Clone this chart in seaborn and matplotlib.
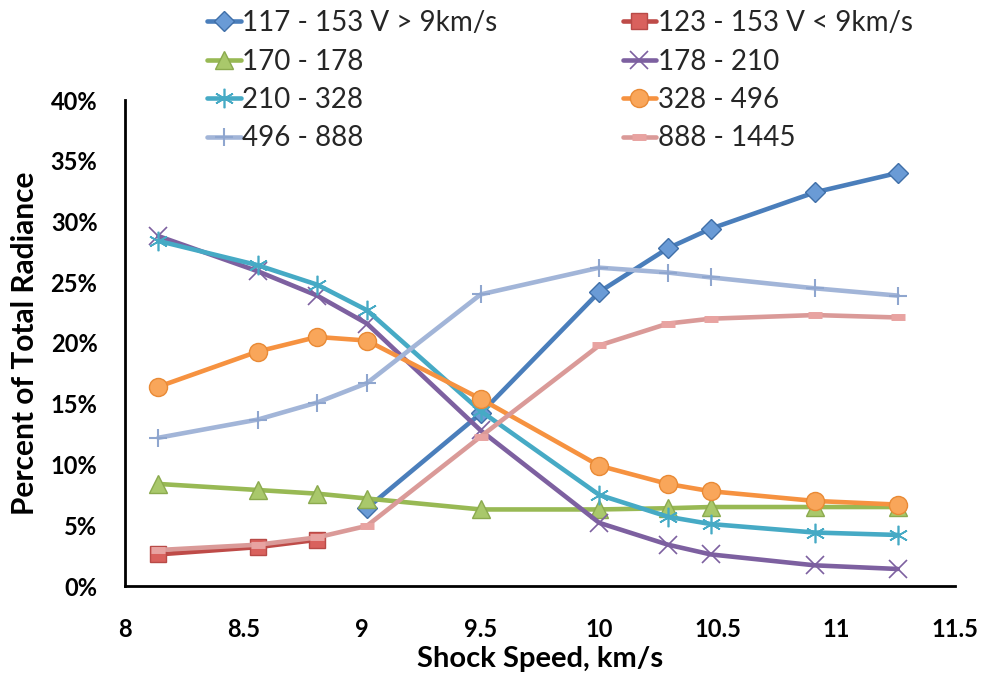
import numpy as np
import pandas as pd
import matplotlib
matplotlib.use("Agg")
import matplotlib.pyplot as plt
import seaborn as sns
from matplotlib.ticker import PercentFormatter, MultipleLocator, FuncFormatter

sns.set_theme(style="white")
plt.rcParams['font.family'] = ['Lato', 'DejaVu Sans']
plt.rcParams['font.weight'] = 'bold'

speeds = [8.14, 8.56, 8.81, 9.02, 9.5, 10.0, 10.29, 10.47, 10.91, 11.26]
nan = np.nan

s_117_153_hi = [nan, nan, nan, 6.4, 14.2, 24.2, 27.8, 29.4, 32.4, 34.0]
s_123_153_lo = [2.6, 3.2, 3.8, nan, nan, nan, nan, nan, nan, nan]
s_170_178 = [8.4, 7.9, 7.6, 7.2, 6.3, 6.3, 6.4, 6.5, 6.5, 6.5]
s_178_210 = [28.8, 25.9, 23.9, 21.6, 12.8, 5.2, 3.4, 2.6, 1.7, 1.4]
s_210_328 = [28.4, 26.4, 24.8, 22.7, 14.4, 7.5, 5.7, 5.1, 4.4, 4.2]
s_328_496 = [16.4, 19.3, 20.5, 20.2, 15.4, 9.9, 8.4, 7.8, 7.0, 6.7]
s_496_888 = [12.2, 13.7, 15.1, 16.7, 24.0, 26.2, 25.8, 25.4, 24.5, 23.9]
s_888_1445 = [2.96, 3.4, 4.0, 4.95, 12.3, 19.8, 21.6, 22.0, 22.3, 22.1]

labels = ["117 - 153 V > 9km/s", "123 - 153 V < 9km/s", "170 - 178", "178 - 210",
          "210 - 328", "328 - 496", "496 - 888", "888 - 1445"]
series = [s_117_153_hi, s_123_153_lo, s_170_178, s_178_210,
          s_210_328, s_328_496, s_496_888, s_888_1445]

styles = [
    dict(color='#4A7EBB', marker='D', ms=10, mfc='#6A9BD6', mec='#3F6FA8', mew=1),
    dict(color='#BE4B48', marker='s', ms=12, mfc='#D9615D', mec='#B84A47', mew=1),
    dict(color='#98B954', marker='^', ms=13, mfc='#A9C86B', mec='#8BAA4E', mew=1),
    dict(color='#7D60A0', marker='x', ms=13, mfc='#7D60A0', mec='#7D60A0', mew=1.2),
    dict(color='#46AAC5', marker=(6, 2, 0), ms=14, mfc='#46AAC5', mec='#46AAC5', mew=1.2),
    dict(color='#F69240', marker='o', ms=13, mfc='#F9A65A', mec='#E98A35', mew=1),
    dict(color='#A2B5D8', marker='+', ms=13, mfc='#8FA6CF', mec='#8FA6CF', mew=1.5),
    dict(color='#DA9A98', marker='_', ms=10, mfc='#E8A3A1', mec='#E8A3A1', mew=5),
]

fig = plt.figure(figsize=(9.82, 6.74), dpi=100)
ax = fig.add_axes([125.2/982, 88/674, (954.7-125.2)/982, 486/674])

for lab, vals, st in zip(labels, series, styles):
    df = pd.DataFrame({"speed": speeds, "pct": vals}).dropna()
    sns.lineplot(data=df, x="speed", y="pct", ax=ax, label=lab, color=st['color'],
                 linewidth=3.3, marker=st['marker'], markersize=st['ms'],
                 markerfacecolor=st['mfc'], markeredgecolor=st['mec'],
                 markeredgewidth=st['mew'], clip_on=False)

ax.set_xlim(8, 11.5)
ax.set_ylim(0, 40)
ax.xaxis.set_major_locator(MultipleLocator(0.5))
ax.yaxis.set_major_locator(MultipleLocator(5))
ax.yaxis.set_major_formatter(PercentFormatter(xmax=100, decimals=0))
ax.xaxis.set_major_formatter(FuncFormatter(lambda v, p: f"{v:g}"))
for side in ['top', 'right']:
    ax.spines[side].set_visible(False)
for side in ['left', 'bottom']:
    ax.spines[side].set_color('black')
    ax.spines[side].set_linewidth(2)
ax.tick_params(axis='both', which='major', direction='out', length=6, width=2,
               color='black', labelsize=17, labelcolor='black')
ax.tick_params(axis='x', pad=17)
ax.tick_params(axis='y', pad=14)
ax.set_xlabel("Shock Speed, km/s", fontsize=21, fontweight='bold', labelpad=4, color='black')
ax.set_ylabel("Percent of Total Radiance", fontsize=21.5, fontweight='bold', labelpad=8, color='black')

handles, labs = ax.get_legend_handles_labels()
order = [0, 2, 4, 6, 1, 3, 5, 7]
ax.legend([handles[i] for i in order], [labs[i] for i in order], ncol=2,
          loc='upper left', bbox_to_anchor=(207/982, 1 - 10/674),
          bbox_transform=fig.transFigure, frameon=False,
          prop={'family': ['Lato', 'DejaVu Sans'], 'weight': 'normal', 'size': 20},
          handlelength=1.22, handletextpad=0.05, columnspacing=4.5,
          labelspacing=0.45, borderpad=0, borderaxespad=0, markerscale=1.0)

fig.savefig("out.png", dpi=100)
